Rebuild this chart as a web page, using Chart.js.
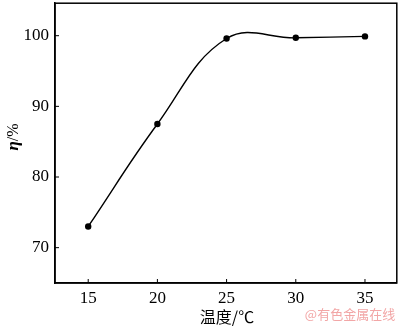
<!DOCTYPE html>
<html>
<head>
<meta charset="utf-8">
<script src="https://cdn.jsdelivr.net/npm/chart.js@4.4.0/dist/chart.umd.min.js"></script>
<style>
  html, body { margin: 0; padding: 0; background: #fff; }
  #wrap { width: 400px; height: 327px; position: relative; }
</style>
</head>
<body>
<div id="wrap"><canvas id="effChart"></canvas></div>
<script>
// temperature (℃) vs efficiency η (%)
const temps = [15, 20, 25, 30, 35];
const eta = [73.0, 87.5, 99.6, 99.7, 99.9];
const xTicks = [15, 20, 25, 30, 35];
const yTicks = [70, 80, 90, 100];

const serif = '"Liberation Serif", "Times New Roman", serif';

// box around plot, inward ticks and the axis titles
const framePlugin = {
    id: 'frame',
    afterDraw(chart) {
        const ctx = chart.ctx;
        const a = chart.chartArea;
        const xs = chart.scales.x;
        const ys = chart.scales.y;
        ctx.save();
        ctx.strokeStyle = '#000';
        ctx.lineWidth = 1.5;
        ctx.strokeRect(a.left, a.top, a.right - a.left, a.bottom - a.top);

        ctx.lineWidth = 1;
        xTicks.forEach(v => {
            const px = xs.getPixelForValue(v);
            ctx.beginPath();
            ctx.moveTo(px, a.bottom);
            ctx.lineTo(px, a.bottom - 4);
            ctx.stroke();
        });
        yTicks.forEach(v => {
            const py = ys.getPixelForValue(v);
            ctx.beginPath();
            ctx.moveTo(a.left, py);
            ctx.lineTo(a.left + 4, py);
            ctx.stroke();
        });

        // y title
        ctx.fillStyle = '#000';
        ctx.translate(14, 137);
        ctx.rotate(-Math.PI / 2);
        ctx.textBaseline = 'middle';
        ctx.font = 'italic bold 17px ' + serif;
        const etaW = ctx.measureText('η').width;
        ctx.font = '16px ' + serif;
        const restW = ctx.measureText('/%').width;
        let start = -(etaW + restW) / 2;
        ctx.textAlign = 'left';
        ctx.font = 'italic bold 17px ' + serif;
        ctx.fillText('η', start, 0);
        ctx.font = '16px ' + serif;
        ctx.fillText('/%', start + etaW, 0);
        ctx.setTransform(1, 0, 0, 1, 0, 0);

        // x title
        ctx.textAlign = 'center';
        ctx.textBaseline = 'middle';
        ctx.font = '16px "Noto Sans CJK SC", ' + serif;
        ctx.fillText('温度/℃', 227, 317);

        // watermark
        ctx.fillStyle = '#f2a6a6';
        ctx.font = '13px "Noto Sans CJK SC", sans-serif';
        ctx.fillText('@有色金属在线', 350, 314);
        ctx.restore();
    }
};

new Chart(document.getElementById('effChart'), {
    type: 'line',
    data: {
        datasets: [{
            data: temps.map((t, i) => ({ x: t, y: eta[i] })),
            borderColor: '#000',
            borderWidth: 1.4,
            backgroundColor: '#000',
            pointRadius: 3.2,
            pointHoverRadius: 3.2,
            pointBackgroundColor: '#000',
            pointBorderWidth: 0,
            tension: 0.4,
            fill: false
        }]
    },
    options: {
        responsive: true,
        maintainAspectRatio: false,
        animation: false,
        layout: { padding: { top: 1, right: 1, left: 0, bottom: 0 } },
        plugins: {
            legend: { display: false },
            tooltip: { enabled: false }
        },
        scales: {
            x: {
                type: 'linear',
                min: 12.6,
                max: 37.3,
                afterBuildTicks: s => { s.ticks = xTicks.map(v => ({ value: v })); },
                afterFit: s => {
                    s.height = 44;
                    s.paddingLeft = 0;
                    s.paddingRight = 0;
                },
                grid: { display: false, drawTicks: false },
                border: { color: '#000', width: 1.5 },
                ticks: {
                    color: '#000',
                    padding: 5,
                    font: { family: serif, size: 17 }
                }
            },
            y: {
                min: 65,
                max: 104.6,
                afterBuildTicks: s => { s.ticks = yTicks.map(v => ({ value: v })); },
                afterFit: s => {
                    s.width = 55;
                    s.paddingTop = 0;
                    s.paddingBottom = 0;
                },
                grid: { display: false, drawTicks: false },
                border: { color: '#000', width: 1.5 },
                ticks: {
                    color: '#000',
                    padding: 6,
                    font: { family: serif, size: 17 }
                }
            }
        }
    },
    plugins: [framePlugin]
});
</script>
</body>
</html>
